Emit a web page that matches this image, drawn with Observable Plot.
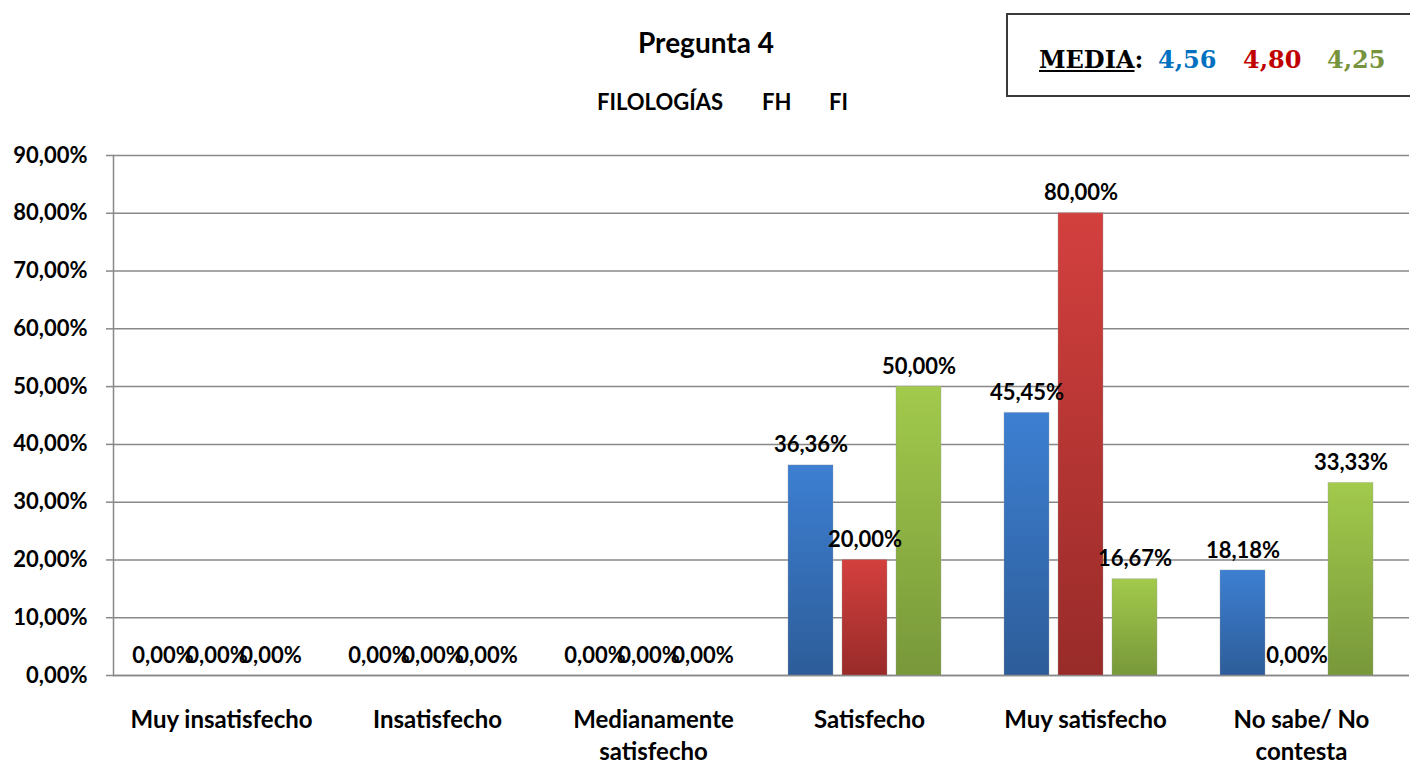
<!DOCTYPE html>
<html><head><meta charset="utf-8">
<script src="https://cdn.jsdelivr.net/npm/d3@7"></script>
<script src="https://cdn.jsdelivr.net/npm/@observablehq/plot@0.6"></script>
<style>
body{margin:0;background:#fff;font-family:Lato,"Noto Sans",sans-serif;}
#wrap{position:relative;width:1410px;height:763px;overflow:hidden;}
#header{position:relative;height:130px;}
#title{position:absolute;left:556px;width:300px;top:25px;line-height:34px;text-align:center;font-size:28px;font-weight:700;color:#000;}
.sub{position:absolute;top:89px;line-height:26px;font-size:22px;font-weight:700;color:#000;}
#media{position:absolute;left:1006px;top:13px;width:420px;height:80px;border:2px solid #3a3a3a;box-sizing:content-box;}
.m{position:absolute;top:30px;line-height:30px;font-family:"DejaVu Serif",serif;font-weight:700;font-size:24px;}
#chart{position:relative;}
</style></head><body>
<div id="wrap">
  <div id="header">
    <div id="title">Pregunta 4</div>
    <div id="subtitle"></div>
    <div id="media"></div>
  </div>
  <div id="chart"></div>
</div>
<script>
const categories = ["Muy insatisfecho","Insatisfecho","Medianamente satisfecho","Satisfecho","Muy satisfecho","No sabe/ No contesta"];
const categoryLabels = ["Muy insatisfecho","Insatisfecho","Medianamente\nsatisfecho","Satisfecho","Muy satisfecho","No sabe/ No\ncontesta"];
const series = ["FILOLOGÍAS","FH","FI"];
const filologias = [0,0,0,36.36,45.45,18.18];
const fh = [0,0,0,20.00,80.00,0];
const fi = [0,0,0,50.00,16.67,33.33];
const means = ["4,56","4,80","4,25"];
const yTicks = [0,10,20,30,40,50,60,70,80,90];

const seriesValues = [filologias, fh, fi];
const meanColors = ["#0070C0","#C00000","#77933C"];
const gradIds = ["gBlue","gRed","gGreen"];
const gradStops = [["#3d7fd2","#2d5d99"],["#d3403e","#982b29"],["#a2ca4c","#78983a"]];

// header texts
const subPos = [597, 762, 829];
const sub = document.getElementById("subtitle");
series.forEach((s,i)=>{const e=document.createElement("span");e.className="sub";e.style.left=subPos[i]+"px";e.textContent=s;sub.appendChild(e);});
const media = document.getElementById("media");
const ml = document.createElement("span"); ml.className="m"; ml.style.left="31px"; ml.style.color="#000";
ml.innerHTML='<span style="text-decoration:underline">MEDIA</span>:';
media.appendChild(ml);
const mPos=[150,235,319];
means.forEach((v,i)=>{const e=document.createElement("span");e.className="m";e.style.left=mPos[i]+"px";e.style.color=meanColors[i];e.textContent=v;media.appendChild(e);});

const table = [];
categories.forEach((c,i)=>series.forEach((s,j)=>table.push({category:c, series:s, value:seriesValues[j][i]})));
const fmt = v => v.toFixed(2).replace(".", ",") + "%";

const chart = Plot.plot({
  width:1410, height:633,
  marginTop:25, marginBottom:88, marginLeft:112, marginRight:0,
  style:{fontFamily:"Lato, 'Noto Sans', sans-serif", background:"#fff", color:"#000"},
  fx:{domain:categories, padding:0, axis:null},
  x:{domain:series, paddingInner:0.17, paddingOuter:0.58, align:0.42, axis:null},
  y:{domain:[0,90], axis:null},
  color:{domain:series, range:gradIds.map(id=>`url(#${id})`)},
  marks:[
    Plot.gridY(yTicks, {stroke:"#888", strokeOpacity:1, strokeWidth:1.5}),
    Plot.ruleY([0], {stroke:"#888", strokeWidth:1.5}),
    Plot.frame({anchor:"left", facetAnchor:"left", stroke:"#888", strokeWidth:1.5}),
    Plot.axisY(yTicks, {tickFormat:fmt, tickSize:7, tickPadding:19, fontSize:22, fontWeight:"bold", stroke:"#888", strokeWidth:1.5, fill:"#000", label:null}),
    Plot.barY(table, {fx:"category", x:"series", y:"value", fill:"series", stroke:"#9a9a9a", strokeOpacity:0.35, strokeWidth:1}),
    Plot.text(table, {fx:"category", x:"series", y:"value", text:d=>fmt(d.value), dy:-20, fontSize:22, fontWeight:"bold", fill:"#000"}),
    Plot.axisFx({tickFormat:d=>categoryLabels[categories.indexOf(d)], tickSize:0, tickPadding:29, fontSize:24, fontWeight:"bold", lineHeight:1.35, label:null, anchor:"bottom", fill:"#000"})
  ]
});
const defs = d3.select(chart).insert("defs", ":first-child");
gradIds.forEach((id,i)=>{
  const g = defs.append("linearGradient").attr("id", id).attr("x1",0).attr("y1",0).attr("x2",0).attr("y2",1);
  g.append("stop").attr("offset","0%").attr("stop-color",gradStops[i][0]);
  g.append("stop").attr("offset","100%").attr("stop-color",gradStops[i][1]);
});
document.getElementById("chart").appendChild(chart);
</script>
</body></html>
